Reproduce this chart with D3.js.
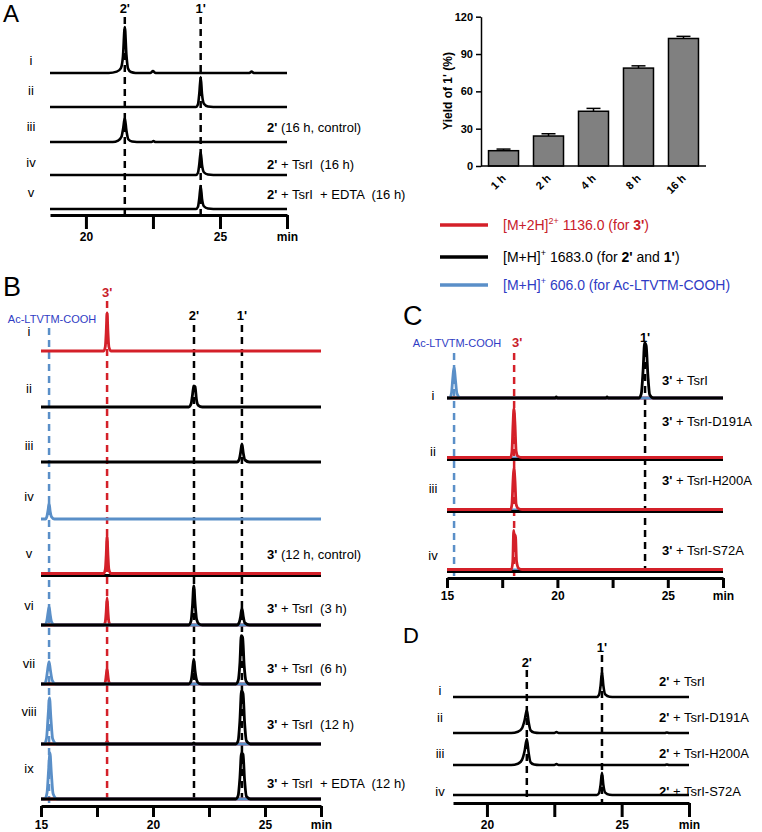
<!DOCTYPE html>
<html><head><meta charset="utf-8">
<script src="https://cdn.jsdelivr.net/npm/d3@7"></script>
<style>
body{margin:0;background:#fff}
text{font-family:"Liberation Sans",Arial,sans-serif;white-space:pre}
</style>
</head><body>
<svg id="c" width="762" height="832"></svg>
<script>
// ================= DATA =================
// Bar chart (panel A, right)
const yieldCategories = ["1 h","2 h","4 h","8 h","16 h"];
const yieldValues = [12.3, 24.1, 44.0, 78.7, 102.5];
const yieldErrors = [1.3, 1.8, 2.3, 1.8, 1.7];
const yieldTicks = [0, 30, 60, 90, 120];

// Legend
const legendSeries = ["red","black","blue"];
const legendParts = [
  [["[M+2H]",""],["2+","sup"],[" 1136.0 (for ",""],["3'","b"],[")",""]],
  [["[M+H]",""],["+","sup"],[" 1683.0 (for ",""],["2'","b"],[" and ",""],["1'","b"],[")",""]],
  [["[M+H]",""],["+","sup"],[" 606.0 (for Ac-LTVTM-COOH)",""]]
];

// Chromatogram time ticks (min)
const ticksAD = [20, 22.5, 25, 27.5];
const ticksBC = [15, 17.5, 20, 22.5, 25, 27.5];

// Panel A traces [time(min), relative intensity]
const aRows = ["i","ii","iii","iv","v"];
const aConditions = [null, null, ["2'"," (16 h, control)"], ["2'"," + TsrI  (16 h)"], ["2'"," + TsrI  + EDTA  (16 h)"]];
const aMarkers = [["2'", 21.45], ["1'", 24.28]];
const aTrace1 = [[18.66,0],[20.85,0],[21.15,3],[21.3,10],[21.38,35],[21.45,100],[21.51,40],[21.57,10],[21.68,2],[21.85,0],[22.4,0],[22.5,4],[22.6,0],[26.1,0],[26.18,3],[26.26,0],[27.5,0]];
const aTrace2 = [[18.66,0],[24.1,0],[24.18,6],[24.23,30],[24.28,65],[24.33,28],[24.4,7],[24.55,1],[24.75,0],[27.5,0]];
const aTrace3 = [[18.66,0],[21.0,0],[21.2,3],[21.33,12],[21.39,30],[21.45,52],[21.51,25],[21.58,6],[21.72,1],[21.9,0],[22.45,0],[22.52,2],[22.6,0],[27.5,0]];
const aTrace4 = [[18.66,0],[24.1,0],[24.18,5],[24.23,24],[24.28,50],[24.33,22],[24.4,6],[24.55,1],[24.75,0],[27.5,0]];
const aTrace5 = [[18.66,0],[24.1,0],[24.18,5],[24.23,24],[24.28,50],[24.33,22],[24.4,6],[24.55,1],[24.75,0],[27.5,0]];

// Panel B traces
const bRows = ["i","ii","iii","iv","v","vi","vii","viii","ix"];
const bConditions = [null,null,null,null,["3'"," (12 h, control)"],["3'"," + TsrI  (3 h)"],["3'"," + TsrI  (6 h)"],["3'"," + TsrI  (12 h)"],["3'"," + TsrI  + EDTA  (12 h)"]];
const bMarkers = [["Ac-LTVTM-COOH",15.36,"blue"],["3'",17.95,"red"],["2'",21.83,"black"],["1'",23.97,"black"]];
const flatBC = [[15,0],[27.5,0]];
const bTrace1Red = [[15,0],[17.8,0],[17.87,8],[17.91,35],[17.95,72],[17.99,35],[18.03,8],[18.12,0],[27.5,0]];
const bTrace2Black = [[15,0],[21.6,0],[21.7,6],[21.76,22],[21.82,40],[21.88,38],[21.94,14],[22.02,3],[22.2,0],[27.5,0]];
const bTrace3Black = [[15,0],[23.75,0],[23.85,5],[23.91,18],[23.97,34],[24.03,17],[24.1,4],[24.3,0],[27.5,0]];
const bTrace4Blue = [[15,0],[15.2,0],[15.27,6],[15.32,18],[15.36,30],[15.41,14],[15.47,4],[15.6,0],[27.5,0]];
const bTrace5Red = [[15,0],[17.8,0],[17.87,8],[17.91,34],[17.95,70],[17.99,34],[18.03,8],[18.12,0],[27.5,0]];
const bTrace6Blue = [[15,0],[15.18,0],[15.26,8],[15.31,22],[15.36,34],[15.41,20],[15.47,6],[15.6,0],[27.5,0]];
const bTrace6Red = [[15,0],[17.8,0],[17.87,6],[17.91,25],[17.95,51],[17.99,25],[18.03,6],[18.12,0],[27.5,0]];
const bTrace6Black = [[15,0],[21.6,0],[21.7,8],[21.76,35],[21.82,74],[21.88,40],[21.95,10],[22.05,2],[22.2,0],[23.75,0],[23.85,5],[23.91,16],[23.97,32],[24.03,16],[24.1,4],[24.3,0],[27.5,0]];
const bTrace7Blue = [[15,0],[15.15,0],[15.24,10],[15.3,28],[15.36,42],[15.42,26],[15.5,7],[15.65,0],[27.5,0]];
const bTrace7Red = [[15,0],[17.8,0],[17.87,4],[17.91,16],[17.95,30],[17.99,15],[18.03,4],[18.12,0],[27.5,0]];
const bTrace7Black = [[15,0],[21.6,0],[21.7,6],[21.76,24],[21.82,47],[21.88,24],[21.95,7],[22.05,1],[22.2,0],[23.7,0],[23.8,6],[23.88,40],[23.94,91],[24.0,88],[24.07,35],[24.15,6],[24.3,0],[27.5,0]];
const bTrace8Blue = [[15,0],[15.15,0],[15.25,12],[15.32,55],[15.38,87],[15.44,50],[15.52,10],[15.7,0],[27.5,0]];
const bTrace8Red = [[15,0],[17.88,0],[17.95,6],[18.03,0],[27.5,0]];
const bTrace8Black = [[15,0],[21.75,0],[21.82,2],[21.9,0],[23.7,0],[23.8,6],[23.88,45],[23.95,100],[24.02,95],[24.09,40],[24.17,6],[24.35,0],[27.5,0]];
const bTrace9Blue = [[15,0],[15.17,0],[15.27,12],[15.34,55],[15.4,87],[15.46,50],[15.54,10],[15.72,0],[27.5,0]];
const bTrace9Black = [[15,0],[23.7,0],[23.8,6],[23.88,40],[23.95,87],[24.02,84],[24.09,35],[24.17,5],[24.35,0],[27.5,0]];

// Panel C traces
const cRows = ["i","ii","iii","iv"];
const cConditions = [["3'"," + TsrI"],["3'"," + TsrI-D191A"],["3'"," + TsrI-H200A"],["3'"," + TsrI-S72A"]];
const cMarkers = [["Ac-LTVTM-COOH",15.32,"blue"],["3'",18.04,"red"],["1'",23.97,"black"]];
const cTrace1Blue = [[15,0],[15.12,0],[15.2,8],[15.26,35],[15.32,56],[15.38,34],[15.45,8],[15.6,0],[27.5,0]];
const cTrace1Black = [[15,0],[19.9,0],[19.95,2],[20.0,0],[22.2,0],[22.25,2],[22.3,0],[23.7,0],[23.8,8],[23.88,50],[23.95,100],[24.02,95],[24.1,40],[24.18,6],[24.35,0],[27.5,0]];
const cTrace2Red = [[15,0],[17.88,0],[17.94,10],[17.99,60],[18.03,89],[18.08,60],[18.13,12],[18.22,2],[18.4,0],[27.5,0]];
const cTrace3Red = [[15,0],[17.88,0],[17.94,9],[17.99,52],[18.03,76],[18.08,52],[18.13,10],[18.22,2],[18.4,0],[27.5,0]];
const cTrace4Red = [[15,0],[17.92,0],[17.98,15],[18.02,71],[18.06,55],[18.1,62],[18.15,15],[18.25,2],[18.4,0],[27.5,0]];

// Panel D traces
const dRows = ["i","ii","iii","iv"];
const dConditions = [["2'"," + TsrI"],["2'"," + TsrI-D191A"],["2'"," + TsrI-H200A"],["2'"," + TsrI-S72A"]];
const dMarkers = [["2'", 21.48], ["1'", 24.27]];
const dTrace1 = [[18.74,0],[24.08,0],[24.16,8],[24.22,45],[24.27,96],[24.32,45],[24.39,10],[24.55,1],[24.75,0],[27.5,0]];
const dTrace2 = [[18.74,0],[20.9,0],[21.15,5],[21.3,18],[21.4,50],[21.48,88],[21.55,40],[21.62,10],[21.75,2],[21.95,0],[22.5,0],[22.58,4],[22.66,0],[26.6,0],[26.68,2],[26.76,0],[27.5,0]];
const dTrace3 = [[18.74,0],[20.9,0],[21.15,5],[21.3,20],[21.4,55],[21.48,100],[21.55,45],[21.62,10],[21.75,2],[21.95,0],[22.5,0],[22.58,4],[22.66,0],[26.6,0],[26.68,2],[26.76,0],[27.5,0]];
const dTrace4 = [[18.74,0],[24.08,0],[24.16,7],[24.22,40],[24.27,85],[24.32,40],[24.39,9],[24.55,1],[24.75,0],[27.5,0]];

// ================= STYLE / LAYOUT =================
const COL = {red:"#d42029", black:"#000", blue:"#5a8fc8"};
const TXT = {red:"#c8202a", black:"#000", blue:"#2f3cc4"};
const svg = d3.select("#c");
const FONT = '"Liberation Sans",Arial,sans-serif';

function panelLetter(t, x, y, size){
  svg.append("text").attr("x",x).attr("y",y).attr("font-size",size).attr("fill","#000").text(t);
}
panelLetter("A",3,22,24);
panelLetter("B",3,296,27);
panelLetter("C",403,325,27);
panelLetter("D",403,643,22);

function chromAxis(x, y, ticks, len){
  const g = svg.append("g").attr("transform",`translate(0,${y})`);
  g.call(d3.axisBottom(x).tickValues(ticks).tickSize(len).tickSizeOuter(0).tickPadding(3)
    .tickFormat(d => d === 27.5 ? "min" : (d % 5 === 0 ? d : "")));
  g.select(".domain").attr("stroke","#000").attr("stroke-width",3);
  g.selectAll(".tick line").attr("stroke","#000").attr("stroke-width",3);
  g.selectAll(".tick text").attr("font-family",FONT).attr("font-weight","bold").attr("font-size",12).attr("fill","#000");
}

function labelParts(x, y, parts, size){
  const t = svg.append("text").attr("x",x).attr("y",y).attr("font-size",size).attr("fill","#000").attr("dominant-baseline","middle");
  t.append("tspan").attr("font-weight","bold").text(parts[0]);
  t.append("tspan").text(parts[1]);
}

function drawPanel(cfg){
  const x = d3.scaleLinear().domain(cfg.domain).range(cfg.range);
  const ys = d3.scaleLinear().domain([0,100]).range([0,-cfg.hPx]);
  const line = d3.line().x(d=>x(d[0])).y(d=>ys(d[1])).curve(d3.curveMonotoneX);
  // dashed markers
  cfg.markers.forEach(m => {
    const c = m[2] || "black";
    svg.append("line").attr("x1",x(m[1])).attr("x2",x(m[1]))
      .attr("y1",cfg.dashTop(m)).attr("y2",cfg.dashBottom)
      .attr("stroke",COL[c]).attr("stroke-width",2.5).attr("stroke-dasharray","7,5");
    const lbl = cfg.markerLabel(m);
    svg.append("text").attr("x",x(m[1])+lbl.dx).attr("y",lbl.y)
      .attr("text-anchor","middle").attr("font-size",lbl.size)
      .attr("font-weight",lbl.bold?"bold":"normal").attr("fill",TXT[c]).text(m[0]);
  });
  // traces
  cfg.series.forEach((rowS, i) => {
    const g = svg.append("g").attr("transform",`translate(0,${cfg.rowY[i]})`);
    rowS.forEach(s => {
      g.append("path").datum(s[1]).attr("d",line).attr("fill","none")
        .attr("stroke",COL[s[0]]).attr("stroke-width",cfg.sw).attr("stroke-linejoin","round")
        .attr("transform",`translate(0,${s[2]||0})`);
    });
  });
  chromAxis(x, cfg.axisY, cfg.ticks, cfg.tickLen);
  // row labels
  cfg.rows.forEach((r,i) => {
    svg.append("text").attr("x",cfg.rowLabelX).attr("y",cfg.rowLabelY[i]).attr("text-anchor","middle")
      .attr("dominant-baseline","middle").attr("font-size",13).attr("fill","#000").text(r);
  });
  cfg.conditions.forEach((c,i) => { if(c) labelParts(cfg.condX, cfg.condY[i], c, 13); });
}

// Panel A
drawPanel({
  domain:[18.66,27.5], range:[50,287], hPx:46, rowY:[73,107,142,175,209], axisY:215, tickLen:14, ticks:ticksAD, sw:2.6,
  rows:aRows, rowLabelX:31, rowLabelY:[62,92,128,164,194],
  conditions:aConditions, condX:267, condY:[0,0,129,166,196],
  markers:aMarkers, dashTop:()=>17, dashBottom:214,
  markerLabel:()=>({y:13, size:13, bold:true, dx:0}),
  series:[[["black",aTrace1]],[["black",aTrace2]],[["black",aTrace3]],[["black",aTrace4]],[["black",aTrace5]]]
});

// Panel B
drawPanel({
  domain:[15,27.5], range:[41,321], hPx:53, rowY:[351,407,462,519,574,625,684,744,799], axisY:806, tickLen:11, ticks:ticksBC, sw:2.8,
  rows:bRows, rowLabelX:29, rowLabelY:[333,390,447,498,555,607,665,713,770],
  conditions:bConditions, condX:267, condY:[0,0,0,0,556,610,670,726,785],
  markers:bMarkers,
  dashTop:m => m[2]==="blue" ? 328 : (m[2]==="red" ? 301 : 325), dashBottom:805,
  markerLabel:m => m[2]==="blue" ? {y:323,size:11,bold:false,dx:3} : (m[2]==="red" ? {y:297,size:13,bold:true,dx:0} : {y:320,size:13,bold:true,dx:0}),
  series:[
    [["red",bTrace1Red]],
    [["black",bTrace2Black]],
    [["black",bTrace3Black]],
    [["blue",bTrace4Blue]],
    [["black",flatBC,1.5],["red",bTrace5Red,-0.5]],
    [["red",bTrace6Red],["blue",bTrace6Blue],["black",bTrace6Black]],
    [["red",bTrace7Red],["blue",bTrace7Blue],["black",bTrace7Black]],
    [["red",bTrace8Red],["blue",bTrace8Blue],["black",bTrace8Black]],
    [["red",flatBC],["blue",bTrace9Blue],["black",bTrace9Black]]
  ]
});

// Panel C
drawPanel({
  domain:[15,27.5], range:[447,723], hPx:55, rowY:[398,458,510,570], axisY:578, tickLen:10, ticks:ticksBC, sw:2.8,
  rows:cRows, rowLabelX:433, rowLabelY:[397,453,490,557],
  conditions:cConditions, condX:662, condY:[382,423,482,552],
  markers:cMarkers,
  dashTop:m => m[2]==="black" ? 350 : 353, dashBottom:577,
  markerLabel:m => m[2]==="blue" ? {y:347,size:11,bold:false,dx:3} : (m[2]==="red" ? {y:347,size:13,bold:true,dx:3} : {y:342,size:13,bold:true,dx:0}),
  series:[
    [["red",flatBC],["blue",cTrace1Blue],["black",cTrace1Black]],
    [["blue",flatBC],["black",flatBC,1.5],["red",cTrace2Red,-0.5]],
    [["blue",flatBC],["black",flatBC,1.5],["red",cTrace3Red,-0.5]],
    [["blue",flatBC],["black",flatBC,1.5],["red",cTrace4Red,-0.5]]
  ]
});

// Panel D
drawPanel({
  domain:[18.74,27.5], range:[453,689], hPx:26, rowY:[697,733,765,795], axisY:803, tickLen:14, ticks:ticksAD, sw:2.6,
  rows:dRows, rowLabelX:440, rowLabelY:[692,719,755,793],
  conditions:dConditions, condX:659, condY:[683,719,755,793],
  markers:dMarkers, dashTop:m => m[0]==="2'" ? 670 : 655, dashBottom:802,
  markerLabel:m => ({y: m[0]==="2'" ? 667 : 652, size:13, bold:true, dx:0}),
  series:[[["black",dTrace1]],[["black",dTrace2]],[["black",dTrace3]],[["black",dTrace4]]]
});

// Bar chart
const bx = d3.scaleBand().domain(yieldCategories).range([481,706]).paddingInner(0.333).paddingOuter(0.167);
const by = d3.scaleLinear().domain([0,120]).range([166,16.7]);
const bars = svg.append("g");
bars.selectAll("rect").data(yieldValues).join("rect")
  .attr("x",(d,i)=>bx(yieldCategories[i])).attr("width",bx.bandwidth())
  .attr("y",d=>by(d)).attr("height",d=>by(0)-by(d))
  .attr("fill","#808080").attr("stroke","#000").attr("stroke-width",1.5);
bars.selectAll("line.err").data(yieldValues).join("line").attr("class","err")
  .attr("x1",(d,i)=>bx(yieldCategories[i])+bx.bandwidth()/2).attr("x2",(d,i)=>bx(yieldCategories[i])+bx.bandwidth()/2)
  .attr("y1",d=>by(d)).attr("y2",(d,i)=>by(d+yieldErrors[i])).attr("stroke","#000").attr("stroke-width",1.5);
bars.selectAll("line.cap").data(yieldValues).join("line").attr("class","cap")
  .attr("x1",(d,i)=>bx(yieldCategories[i])+bx.bandwidth()/2-7).attr("x2",(d,i)=>bx(yieldCategories[i])+bx.bandwidth()/2+7)
  .attr("y1",(d,i)=>by(d+yieldErrors[i])).attr("y2",(d,i)=>by(d+yieldErrors[i])).attr("stroke","#000").attr("stroke-width",1.5);
const yAx = svg.append("g").attr("transform","translate(481,0)")
  .call(d3.axisLeft(by).tickValues(yieldTicks).tickSize(5).tickSizeOuter(0).tickPadding(3));
yAx.select(".domain").attr("stroke-width",1.5);
yAx.selectAll(".tick line").attr("stroke-width",1.5);
yAx.selectAll(".tick text").attr("font-family",FONT).attr("font-weight","bold").attr("font-size",11).attr("fill","#000");
const xAx = svg.append("g").attr("transform","translate(0,166)")
  .call(d3.axisBottom(bx).tickSize(0).tickSizeOuter(0).tickFormat(()=>""));
xAx.select(".domain").attr("stroke-width",1.5).attr("d","M481,0H706");
yieldCategories.forEach(c => {
  const cx = bx(c) + bx.bandwidth()/2 + 3;
  svg.append("text").attr("transform",`translate(${cx},179) rotate(-45)`)
    .attr("text-anchor","end").attr("font-size",11).attr("font-weight","bold").text(c);
});
svg.append("text").attr("transform","translate(452,91) rotate(-90)").attr("text-anchor","middle")
  .attr("font-size",12).attr("font-weight","bold").text("Yield of 1' (%)");

// Legend
const legY = d3.scalePoint().domain(legendSeries).range([225,285]);
legendSeries.forEach((s,i) => {
  const yy = [225,257,285][i];
  svg.append("line").attr("x1",440).attr("x2",488).attr("y1",yy).attr("y2",yy)
    .attr("stroke",COL[s]).attr("stroke-width",3.5);
  const t = svg.append("text").attr("x",503).attr("y",yy+5).attr("font-size",14).attr("fill",TXT[s]);
  legendParts[i].forEach((p,j) => {
    const ts = t.append("tspan").text(p[0]);
    if(p[1]==="b") ts.attr("font-weight","bold");
    if(p[1]==="sup") ts.attr("font-size",9).attr("dy",-6);
    if(j>0 && legendParts[i][j-1][1]==="sup") ts.attr("dy",6);
  });
});
</script>
</body></html>
